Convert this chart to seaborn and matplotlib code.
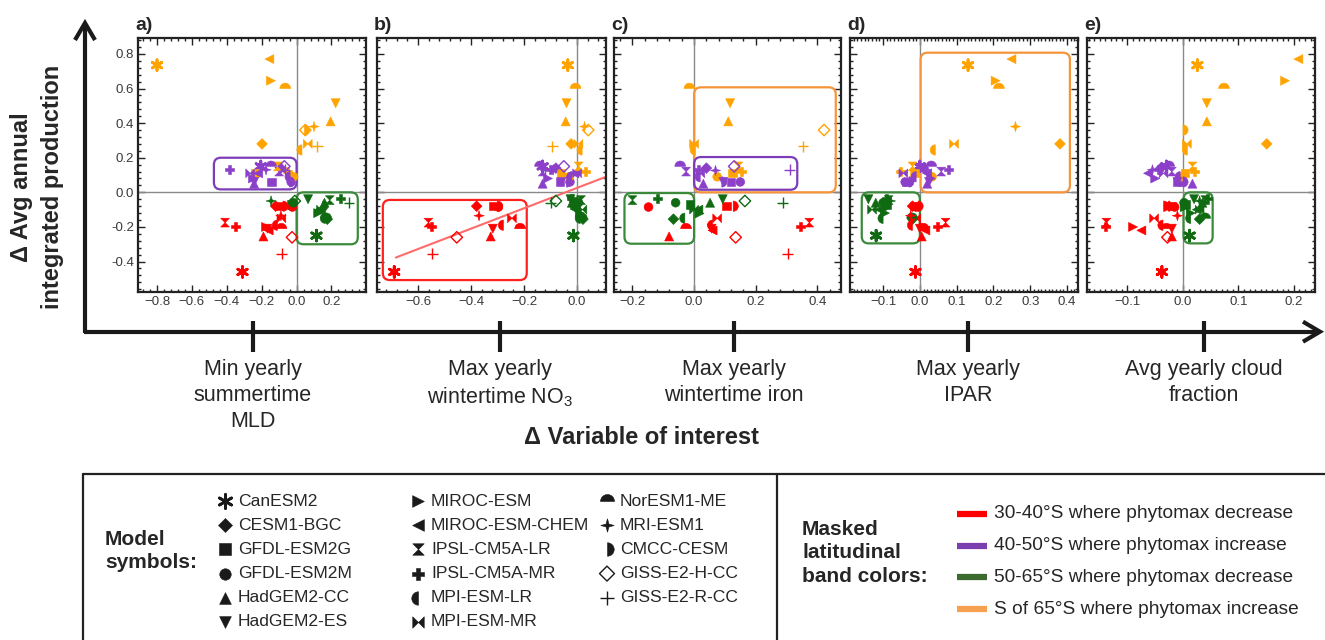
import numpy as np
import pandas as pd
import matplotlib
matplotlib.use("Agg")
import matplotlib.pyplot as plt
import seaborn as sns
from matplotlib.path import Path
from matplotlib.patches import FancyBboxPatch
from matplotlib.ticker import MultipleLocator, AutoMinorLocator, FuncFormatter

# ---------------- data ----------------
models = ["CanESM2", "CESM1-BGC", "GFDL-ESM2G", "GFDL-ESM2M", "HadGEM2-CC", "HadGEM2-ES",
          "MIROC-ESM", "MIROC-ESM-CHEM", "IPSL-CM5A-LR", "IPSL-CM5A-MR", "MPI-ESM-LR",
          "MPI-ESM-MR", "NorESM1-ME", "MRI-ESM1", "CMCC-CESM", "GISS-E2-H-CC", "GISS-E2-R-CC"]
bands = ["30-40°S where phytomax decrease", "40-50°S where phytomax increase",
         "50-65°S where phytomax decrease", "S of 65°S where phytomax increase"]
band_colors = ["#FF0000", "#8C3FC8", "#0F6A12", "#FFA300"]
legend_line_colors = ["#FF0000", "#7B3FB0", "#3C6B30", "#F7A050"]
box_colors = ["#FF2020", "#7E3DB8", "#3B8A3B", "#F5943A"]

panel_letters = ["a)", "b)", "c)", "d)", "e)"]
panel_labels = ["Min yearly\nsummertime\nMLD", "Max yearly\nwintertime NO$_\\mathregular{3}$",
                "Max yearly\nwintertime iron", "Max yearly\nIPAR", "Avg yearly cloud\nfraction"]
nan = np.nan

# Delta avg annual integrated production (same for every panel)
y_red = [-0.46, -0.08, -0.08, -0.085, -0.255, -0.21, -0.20, -0.22, -0.175, -0.20, -0.19,
         -0.15, -0.21, -0.135, -0.08, -0.26, -0.355]
y_purple = [0.15, 0.14, 0.06, 0.06, 0.05, 0.06, 0.08, 0.11, 0.12, 0.13, 0.09, 0.11, 0.15,
            0.13, 0.06, 0.15, 0.13]
y_green = [-0.25, -0.155, -0.07, -0.06, -0.06, -0.04, -0.12, -0.10, -0.045, -0.035, -0.15,
           -0.10, -0.15, -0.05, -0.08, -0.05, -0.06]
y_orange = [0.735, 0.28, 0.113, 0.09, 0.41, 0.515, 0.645, 0.77, 0.15, 0.12, 0.245, 0.28,
            0.60, 0.38, 0.36, 0.36, 0.265]

# a) Min yearly summertime MLD
x_red_a = [-0.31, -0.12, -0.097, -0.024, -0.19, -0.167, -0.175, -0.16, -0.41, -0.352, -0.11,
           -0.087, -0.087, -0.09, -0.078, -0.026, -0.086]
x_purple_a = [-0.205, -0.091, -0.143, -0.031, -0.243, -0.243, -0.25, -0.22, -0.10, -0.383,
              -0.037, -0.266, -0.146, -0.175, -0.04, -0.07, -0.067]
x_green_a = [0.114, 0.176, -0.03, -0.02, 0.16, 0.066, 0.124, 0.13, 0.19, 0.249, 0.165, 0.14,
             0.17, -0.146, 0.15, -0.01, 0.30]
x_orange_a = [-0.80, -0.198, -0.239, -0.017, 0.195, 0.224, -0.147, -0.156, -0.107, -0.052,
              0.031, 0.064, -0.065, 0.10, 0.045, 0.05, 0.118]
# b) Max yearly wintertime NO3
x_red_b = [-0.69, -0.379, -0.316, -0.297, -0.326, -0.318, nan, nan, -0.561, -0.549, -0.278,
           -0.246, -0.215, -0.37, -0.30, -0.454, -0.546]
x_purple_b = [-0.13, -0.08, -0.065, -0.027, -0.13, -0.06, -0.11, -0.01, -0.13, -0.10, -0.02,
              0.0, -0.14, -0.09, -0.04, -0.05, -0.12]
x_green_b = [-0.014, 0.022, -0.01, 0.005, -0.02, -0.025, 0.01, -0.005, 0.015, -0.02, 0.012,
             0.02, 0.018, 0.0, -0.01, -0.08, -0.10]
x_orange_b = [-0.035, -0.023, -0.06, -0.03, -0.043, -0.04, nan, nan, 0.006, 0.031, 0.019,
              0.005, -0.006, 0.028, nan, 0.042, -0.094]
fit_x_b = [-0.684, 0.109]
fit_y_b = [-0.377, 0.09]
# c) Max yearly wintertime iron
x_red_c = [nan, nan, 0.105, -0.148, -0.081, 0.057, nan, 0.06, 0.374, 0.344, 0.06, 0.075,
           -0.026, nan, 0.127, 0.135, 0.304]
x_purple_c = [nan, 0.04, 0.12, 0.15, 0.03, 0.095, nan, nan, -0.026, 0.014, 0.02, 0.02,
              -0.045, 0.067, 0.09, 0.13, 0.31]
x_green_c = [nan, -0.067, -0.013, -0.06, 0.052, 0.093, 0.017, 0.014, -0.2, -0.119, -0.03,
             0.0, nan, nan, nan, 0.165, 0.288]
x_orange_c = [nan, nan, 0.125, 0.075, 0.111, 0.117, nan, nan, 0.144, 0.155, 0.004, 0.0,
              -0.015, nan, nan, 0.422, 0.354]
# d) Max yearly IPAR
x_red_d = [-0.012, -0.02, -0.015, -0.01, 0.005, 0.0, 0.01, 0.015, 0.07, 0.047, -0.02, -0.01,
           0.01, -0.025, -0.005, nan, nan]
x_purple_d = [0.0, 0.01, -0.037, -0.04, 0.02, 0.025, 0.03, 0.02, 0.058, 0.077, -0.01, -0.045,
              0.031, 0.015, -0.03, nan, nan]
x_green_d = [-0.119, -0.02, -0.09, -0.1, -0.12, -0.14, -0.095, -0.11, -0.085, -0.09, -0.1,
             -0.13, -0.021, -0.08, -0.1, nan, nan]
x_orange_d = [0.131, 0.381, -0.014, 0.033, nan, nan, 0.206, 0.249, -0.02, -0.053, 0.042,
              0.093, 0.215, 0.26, nan, nan, nan]
# e) Avg yearly cloud fraction
x_red_e = [-0.038, -0.025, -0.02, -0.015, -0.02, -0.02, -0.09, -0.075, -0.138, -0.139, -0.036,
           -0.052, -0.03, -0.01, -0.035, -0.028, nan]
x_purple_e = [-0.03, -0.04, -0.01, -0.005, 0.017, -0.01, -0.05, -0.063, -0.02, -0.045, -0.005,
              -0.035, -0.025, -0.055, 0.0, nan, nan]
x_green_e = [0.012, 0.03, 0.005, 0.002, 0.035, 0.02, 0.014, 0.025, 0.04, 0.045, 0.014, 0.03,
             0.04, 0.03, -0.005, nan, nan]
x_orange_e = [0.026, 0.151, 0.004, -0.002, 0.043, 0.043, 0.184, 0.208, 0.017, 0.02, 0.008,
              0.007, 0.074, nan, 0.0, nan, nan]

# highlighted regions: (band index, x0, x1, y0, y1)
boxes_a = [(1, -0.474, 0.0, 0.017, 0.20), (2, 0.0, 0.351, -0.30, 0.0)]
boxes_b = [(0, -0.733, -0.19, -0.507, -0.044)]
boxes_c = [(3, 0.0, 0.46, 0.0, 0.607), (1, 0.0, 0.335, 0.015, 0.204), (2, -0.226, 0.0, -0.297, -0.004)]
boxes_d = [(3, 0.002, 0.408, 0.0, 0.807), (2, -0.158, 0.0, -0.295, 0.0)]
boxes_e = [(2, 0.001, 0.0535, -0.295, 0.0)]

x_by_panel = [
    [x_red_a, x_purple_a, x_green_a, x_orange_a],
    [x_red_b, x_purple_b, x_green_b, x_orange_b],
    [x_red_c, x_purple_c, x_green_c, x_orange_c],
    [x_red_d, x_purple_d, x_green_d, x_orange_d],
    [x_red_e, x_purple_e, x_green_e, x_orange_e],
]
y_by_band = [y_red, y_purple, y_green, y_orange]
boxes_by_panel = [boxes_a, boxes_b, boxes_c, boxes_d, boxes_e]

rows = []
for p, xs in enumerate(x_by_panel):
    for b in range(4):
        for m in range(len(models)):
            rows.append((p, models[m], bands[b], xs[b][m], y_by_band[b][m]))
df = pd.DataFrame(rows, columns=["panel", "model", "band", "x", "y"]).dropna()

# ---------------- markers ----------------
def half_disc(t1, t2):
    arc = Path.arc(t1, t2)
    verts = np.vstack([arc.vertices, [[0, 0]], [[0, 0]]])
    codes = list(arc.codes) + [Path.LINETO, Path.CLOSEPOLY]
    return Path(verts, codes)

hourglass = Path([(-1, 1), (1, 1), (-1, -1), (1, -1), (-1, 1)],
                 [Path.MOVETO, Path.LINETO, Path.LINETO, Path.LINETO, Path.CLOSEPOLY])
bowtie = Path([(-1, 1), (-1, -1), (1, 1), (1, -1), (-1, 1)],
              [Path.MOVETO, Path.LINETO, Path.LINETO, Path.LINETO, Path.CLOSEPOLY])
star4 = Path([(0, 1), (0.22, 0.22), (1, 0), (0.22, -0.22), (0, -1), (-0.22, -0.22), (-1, 0),
              (-0.22, 0.22), (0, 1)],
             [Path.MOVETO] + [Path.LINETO] * 7 + [Path.CLOSEPOLY])

marker_map = {
    "CanESM2": ((6, 2, 0), 60, 2.0),
    "CESM1-BGC": ("D", 30, 0.4),
    "GFDL-ESM2G": ("s", 38, 0.4),
    "GFDL-ESM2M": ("o", 40, 0.4),
    "HadGEM2-CC": ("^", 42, 0.4),
    "HadGEM2-ES": ("v", 42, 0.4),
    "MIROC-ESM": (">", 42, 0.4),
    "MIROC-ESM-CHEM": ("<", 42, 0.4),
    "IPSL-CM5A-LR": (hourglass, 40, 0.4),
    "IPSL-CM5A-MR": ("P", 42, 0.4),
    "MPI-ESM-LR": (half_disc(90, 270), 55, 0.4),
    "MPI-ESM-MR": (bowtie, 40, 0.4),
    "NorESM1-ME": (half_disc(0, 180), 60, 0.4),
    "MRI-ESM1": (star4, 55, 0.4),
    "CMCC-CESM": (half_disc(-90, 90), 55, 0.4),
    "GISS-E2-H-CC": ("D", 34, 1.0),
    "GISS-E2-R-CC": ("+", 60, 1.0),
}
line_art = {"CanESM2", "GISS-E2-R-CC"}

# ---------------- figure ----------------
sns.set_theme(style="white")
plt.rcParams["font.family"] = ["Liberation Sans", "DejaVu Sans"]
plt.rcParams["mathtext.fontset"] = "custom"
plt.rcParams["mathtext.rm"] = "Liberation Sans"

W, H = 1325, 640
fig = plt.figure(figsize=(W / 100, H / 100), dpi=100)
fig.patch.set_facecolor("white")

ov = fig.add_axes([0, 0, 1, 1])
ov.set_xlim(0, W)
ov.set_ylim(H, 0)
ov.axis("off")

panel_px = [(138, 366), (377, 606), (614, 841), (850, 1078), (1087, 1315)]
top_px, bot_px = 38, 292
xlims = [(-0.909, 0.398), (-0.755, 0.109), (-0.26, 0.477), (-0.19, 0.43), (-0.173, 0.238)]
ylim = (-0.576, 0.892)
xmajor = [0.2, 0.2, 0.2, 0.1, 0.1]
xminor = [5, 5, 5, 10, 10]
palette = dict(zip(bands, band_colors))


def fmt_x(v, pos):
    if abs(v) < 1e-9:
        return "0.0"
    return f"{v:.1f}".replace("-", "\u2212")


def fmt_y(v, pos):
    if abs(v) < 1e-9:
        return "0.0"
    return f"{v:.1f}"


axes = []
for p, (l, r) in enumerate(panel_px):
    ax = fig.add_axes([l / W, 1 - bot_px / H, (r - l) / W, (bot_px - top_px) / H])
    ax.set_facecolor("white")
    axes.append(ax)
    ax.axhline(0, color="#8a8a8a", lw=1.0, zorder=0.8)
    ax.axvline(0, color="#8a8a8a", lw=1.0, zorder=0.8)

    sub_p = df[df.panel == p]
    for model in models:
        sub = sub_p[sub_p.model == model]
        if sub.empty:
            continue
        mk, size, lw = marker_map[model]
        kw = dict(s=size, linewidth=lw, ax=ax, legend=False, zorder=3)
        if model not in line_art:
            kw["edgecolor"] = "face"
        sns.scatterplot(data=sub, x="x", y="y", hue="band", hue_order=bands,
                        palette=palette, marker=mk, **kw)
        if model == "GISS-E2-H-CC":
            coll = ax.collections[-1]
            coll.set_edgecolors(coll.get_facecolors())
            coll.set_facecolors("none")

    if p == 1:
        sns.lineplot(x=fit_x_b, y=fit_y_b, color="#FF6A6A", lw=1.5, ax=ax, zorder=2.5)

    ax.set_xlim(*xlims[p])
    ax.set_ylim(*ylim)
    xupp = (xlims[p][1] - xlims[p][0]) / (r - l)
    yupp = (ylim[1] - ylim[0]) / (bot_px - top_px)
    for (bi, x0, x1, y0, y1) in boxes_by_panel[p]:
        ax.add_patch(FancyBboxPatch((x0, y0), x1 - x0, y1 - y0,
                                    boxstyle=f"round,pad=0,rounding_size={7 * xupp}",
                                    mutation_aspect=yupp / xupp, fc="none",
                                    ec=box_colors[bi], lw=1.6, zorder=2))

    ax.set_xlabel("")
    ax.set_ylabel("")
    ax.xaxis.set_major_locator(MultipleLocator(xmajor[p]))
    ax.xaxis.set_minor_locator(AutoMinorLocator(xminor[p]))
    ax.yaxis.set_major_locator(MultipleLocator(0.2))
    ax.yaxis.set_minor_locator(AutoMinorLocator(5))
    ax.tick_params(which="both", direction="in", top=True, right=True, bottom=True, left=True,
                   width=1, color="#222", labelcolor="#3a3a3a", labelsize=9.5, pad=3)
    ax.tick_params(which="major", length=5)
    ax.tick_params(which="minor", length=2.5)
    ax.xaxis.set_major_formatter(FuncFormatter(fmt_x))
    if p == 0:
        ax.yaxis.set_major_formatter(FuncFormatter(fmt_y))
    else:
        ax.tick_params(labelleft=False)
    for s in ax.spines.values():
        s.set_linewidth(1.6)
        s.set_color("#222")

    ov.text(l - 3, 26, panel_letters[p], fontsize=14, fontweight="bold", ha="left", va="center")

# ---------------- big axes arrows ----------------
axis_y = 331.7
arrow_x = 85
ov.plot([arrow_x - 1.5, 1318], [axis_y, axis_y], color="k", lw=3, solid_capstyle="butt")
ov.plot([1303, 1320, 1303], [axis_y - 10, axis_y, axis_y + 10], color="k", lw=3,
        solid_joinstyle="miter", solid_capstyle="butt")
ov.plot([arrow_x, arrow_x], [axis_y + 1.5, 25], color="k", lw=3, solid_capstyle="butt")
ov.plot([arrow_x - 10, arrow_x, arrow_x + 10], [40, 23, 40], color="k", lw=3,
        solid_joinstyle="miter", solid_capstyle="butt")

cat_x = [253, 500, 734, 968, 1204]
for cx, lab in zip(cat_x, panel_labels):
    ov.plot([cx, cx], [321, 352], color="k", lw=3, solid_capstyle="butt")
    ov.text(cx, 359, lab, ha="center", va="top", fontsize=15.5, linespacing=1.3)

ov.text(642, 438, "Δ Variable of interest", ha="center", va="center", fontsize=17,
        fontweight="bold")
ov.text(37, 187, "Δ Avg annual\nintegrated production", rotation=90, ha="center",
        va="center", fontsize=17, fontweight="bold", linespacing=1.4)

# ---------------- legend ----------------
ov.plot([83, W], [474, 474], color="#222", lw=1.6)
ov.plot([83, 83], [474, H], color="#222", lw=1.6)
ov.plot([777, 777], [474, H], color="#222", lw=1.6)

ov.text(105, 551, "Model\nsymbols:", ha="left", va="center", fontsize=15, fontweight="bold",
        linespacing=1.25)
col_marker_x = [225, 418, 607]
col_text_x = [238, 431, 620]
for i, model in enumerate(models):
    c, rrow = divmod(i, 6)
    yy = 501 + 24.2 * rrow
    mk, size, lw = marker_map[model]
    if model == "GISS-E2-H-CC":
        ov.scatter([col_marker_x[c]], [yy], marker=mk, s=size * 1.7, facecolors="none",
                   edgecolors="k", linewidths=1.0)
    elif model in line_art:
        ov.scatter([col_marker_x[c]], [yy], marker=mk, s=size * 1.7, c="k", linewidths=lw)
    else:
        ov.scatter([col_marker_x[c]], [yy], marker=mk, s=size * 1.7, c="k", edgecolors="k",
                   linewidths=0.4)
    ov.text(col_text_x[c], yy, model, ha="left", va="center", fontsize=12.6)

ov.text(802, 553, "Masked\nlatitudinal\nband colors:", ha="left", va="center", fontsize=15,
        fontweight="bold", linespacing=1.3)
for i, (lab, col) in enumerate(zip(bands, legend_line_colors)):
    yy = 514 + 31.7 * i
    ov.plot([957, 987], [yy, yy], color=col, lw=4.5, solid_capstyle="butt")
    ov.text(994, yy, lab, ha="left", va="center", fontsize=13.8)

fig.savefig("out.png", dpi=100, facecolor="white")
